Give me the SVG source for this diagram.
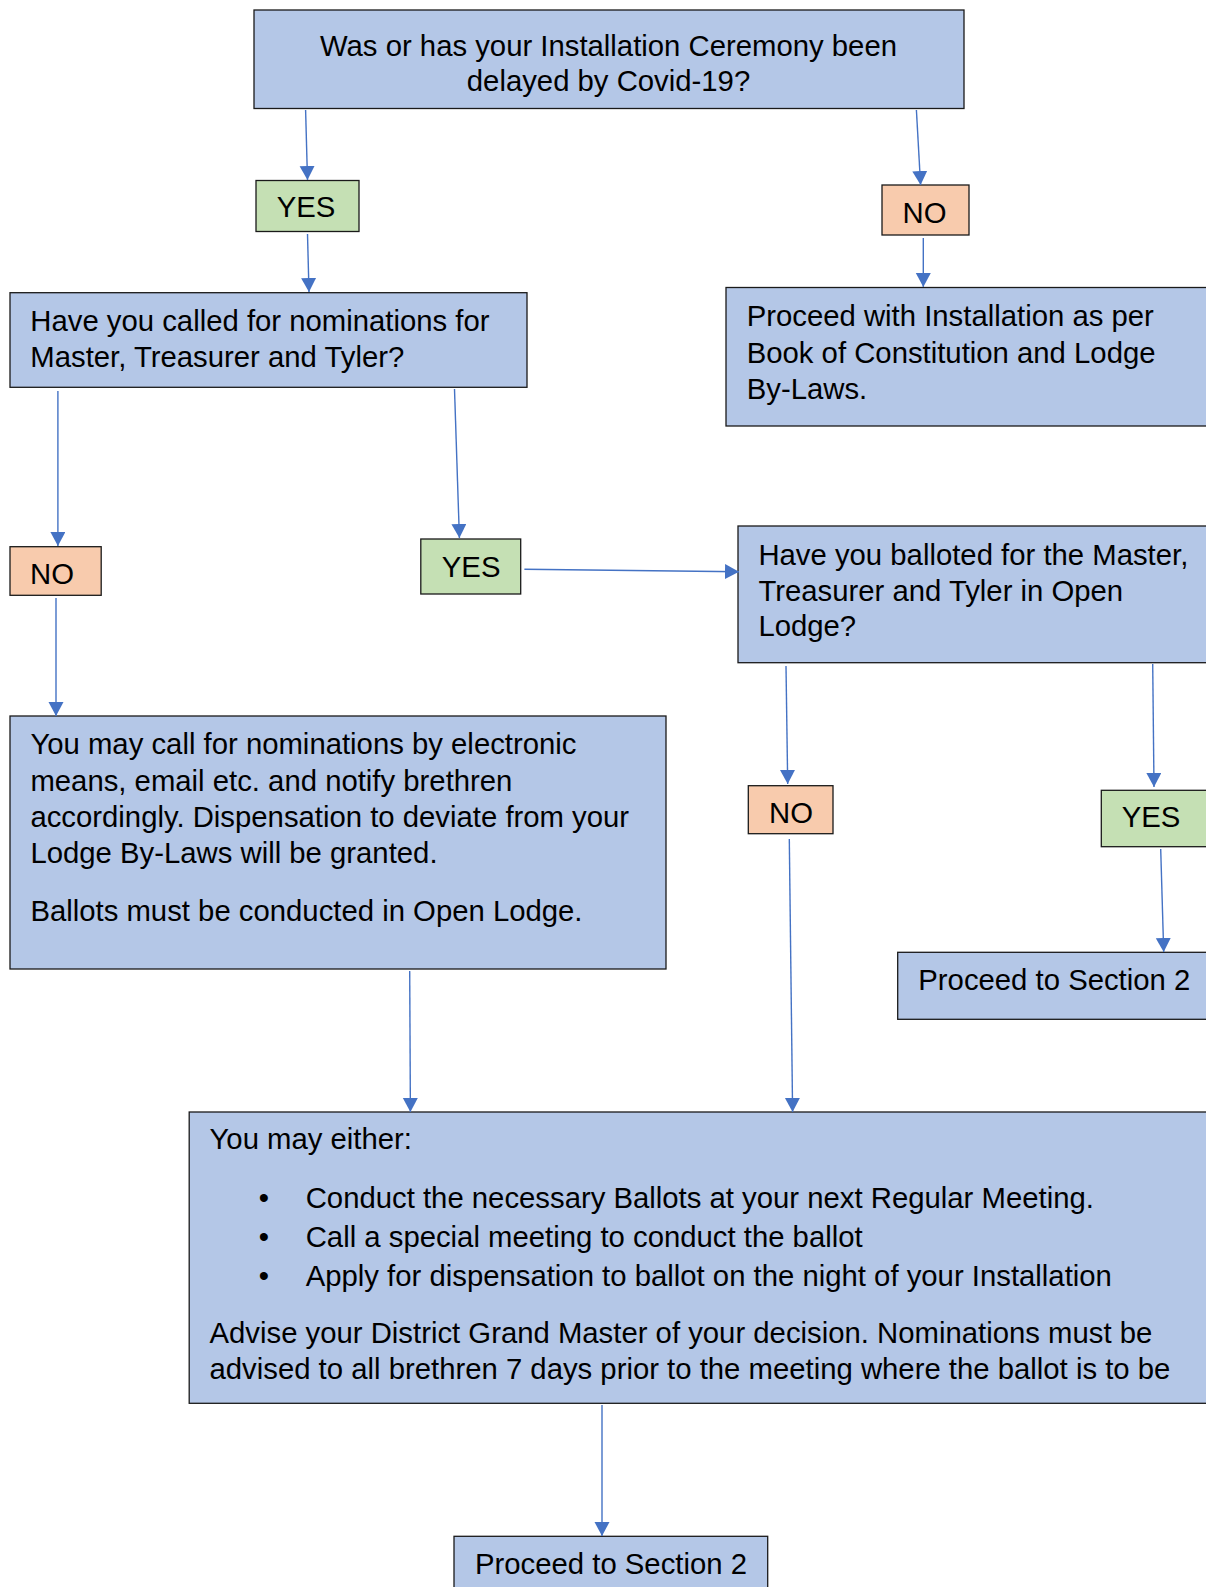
<svg xmlns="http://www.w3.org/2000/svg" width="1206" height="1587" viewBox="0 0 1206 1587">
<style>
  .blue{fill:#B4C7E7;stroke:#1a1a1a;stroke-width:1.3}
  .green{fill:#C5E0B4;stroke:#1a1a1a;stroke-width:1.3}
  .orange{fill:#F8CBAD;stroke:#1a1a1a;stroke-width:1.3}
  text{font-family:"Liberation Sans",Arial,sans-serif;font-size:29.3px;fill:#000}
  .c{text-anchor:middle}
  .conn line{stroke:#4472C4;stroke-width:1.4;marker-end:url(#arr)}
</style>
<defs>
  <marker id="arr" markerUnits="userSpaceOnUse" markerWidth="16" markerHeight="16" refX="14" refY="7.5" orient="auto">
    <path d="M0,0 L14,7.5 L0,15 z" fill="#4472C4"/>
  </marker>
</defs>
<rect width="1206" height="1587" fill="#fff"/>

<g id="q1">
  <rect class="blue" x="254" y="10" width="710" height="98.5"/>
  <text class="c" x="608.5" y="55.5">Was or has your Installation Ceremony been</text>
  <text class="c" x="608.5" y="91">delayed by Covid-19?</text>
</g>
<g id="yes1">
  <rect class="green" x="256" y="180.5" width="103" height="51"/>
  <text class="c" x="306" y="216.7">YES</text>
</g>
<g id="no1">
  <rect class="orange" x="882" y="185" width="87" height="50"/>
  <text class="c" x="924.5" y="222.7">NO</text>
</g>
<g id="proceed1">
  <rect class="blue" x="726" y="287.5" width="490" height="138.5"/>
  <text x="746.7" y="326">Proceed with Installation as per</text>
  <text x="746.7" y="362.7">Book of Constitution and Lodge</text>
  <text x="746.7" y="399.3">By-Laws.</text>
</g>
<g id="q2">
  <rect class="blue" x="10" y="292.7" width="517" height="94.6"/>
  <text x="30.3" y="330.7">Have you called for nominations for</text>
  <text x="30.3" y="367.3">Master, Treasurer and Tyler?</text>
</g>
<g id="no2">
  <rect class="orange" x="10" y="546.7" width="91.2" height="48.6"/>
  <text x="30" y="584">NO</text>
</g>
<g id="yes2">
  <rect class="green" x="420.8" y="539" width="99.9" height="55"/>
  <text x="441.8" y="576.7">YES</text>
</g>
<g id="q3">
  <rect class="blue" x="738" y="526" width="478" height="136.7"/>
  <text x="758.4" y="565">Have you balloted for the Master,</text>
  <text x="758.4" y="600.7">Treasurer and Tyler in Open</text>
  <text x="758.4" y="636">Lodge?</text>
</g>
<g id="no3">
  <rect class="orange" x="748.3" y="785.7" width="84.7" height="48"/>
  <text x="769" y="823.3">NO</text>
</g>
<g id="yes3">
  <rect class="green" x="1101.3" y="790.3" width="115" height="56.4"/>
  <text x="1121.7" y="827.3">YES</text>
</g>
<g id="proceed2">
  <rect class="blue" x="897.7" y="952.3" width="318" height="67"/>
  <text x="918.3" y="990">Proceed to Section 2</text>
</g>
<g id="nominations">
  <rect class="blue" x="10" y="716" width="656" height="253"/>
  <text x="30.4" y="754">You may call for nominations by electronic</text>
  <text x="30.4" y="790.7">means, email etc. and notify brethren</text>
  <text x="30.4" y="827.3">accordingly. Dispensation to deviate from your</text>
  <text x="30.4" y="863.3">Lodge By-Laws will be granted.</text>
  <text x="30.4" y="920.7">Ballots must be conducted in Open Lodge.</text>
</g>
<g id="options">
  <rect class="blue" x="189.2" y="1112" width="1027" height="291.3"/>
  <text x="209.5" y="1149.3">You may either:</text>
  <text class="c" x="263.8" y="1208.3">•</text>
  <text x="305.7" y="1208.3">Conduct the necessary Ballots at your next Regular Meeting.</text>
  <text class="c" x="263.8" y="1246.7">•</text>
  <text x="305.7" y="1246.7">Call a special meeting to conduct the ballot</text>
  <text class="c" x="263.8" y="1285.7">•</text>
  <text x="305.7" y="1285.7">Apply for dispensation to ballot on the night of your Installation</text>
  <text x="209.5" y="1343.3">Advise your District Grand Master of your decision. Nominations must be</text>
  <text x="209.5" y="1379.3">advised to all brethren 7 days prior to the meeting where the ballot is to be</text>
</g>
<g id="proceed3">
  <rect class="blue" x="454" y="1536.3" width="313.7" height="70"/>
  <text x="475" y="1574">Proceed to Section 2</text>
</g>

<g id="connectors" class="conn">
  <line x1="305.6" y1="110" x2="307.5" y2="180"/>
  <line x1="916.4" y1="110" x2="920.6" y2="185"/>
  <line x1="307.5" y1="234" x2="309" y2="292"/>
  <line x1="923.3" y1="238" x2="923.3" y2="287"/>
  <line x1="57.9" y1="391" x2="57.9" y2="546"/>
  <line x1="454.5" y1="389" x2="459.4" y2="538"/>
  <line x1="524.4" y1="569.3" x2="739" y2="571.7"/>
  <line x1="56" y1="598" x2="56" y2="716"/>
  <line x1="786" y1="666" x2="787.7" y2="784"/>
  <line x1="1152.7" y1="664" x2="1154" y2="787"/>
  <line x1="1160.7" y1="849" x2="1163.7" y2="952"/>
  <line x1="789.3" y1="839" x2="792.6" y2="1112"/>
  <line x1="409.7" y1="971" x2="410.4" y2="1112"/>
  <line x1="602" y1="1405" x2="602" y2="1536"/>
</g>
</svg>
